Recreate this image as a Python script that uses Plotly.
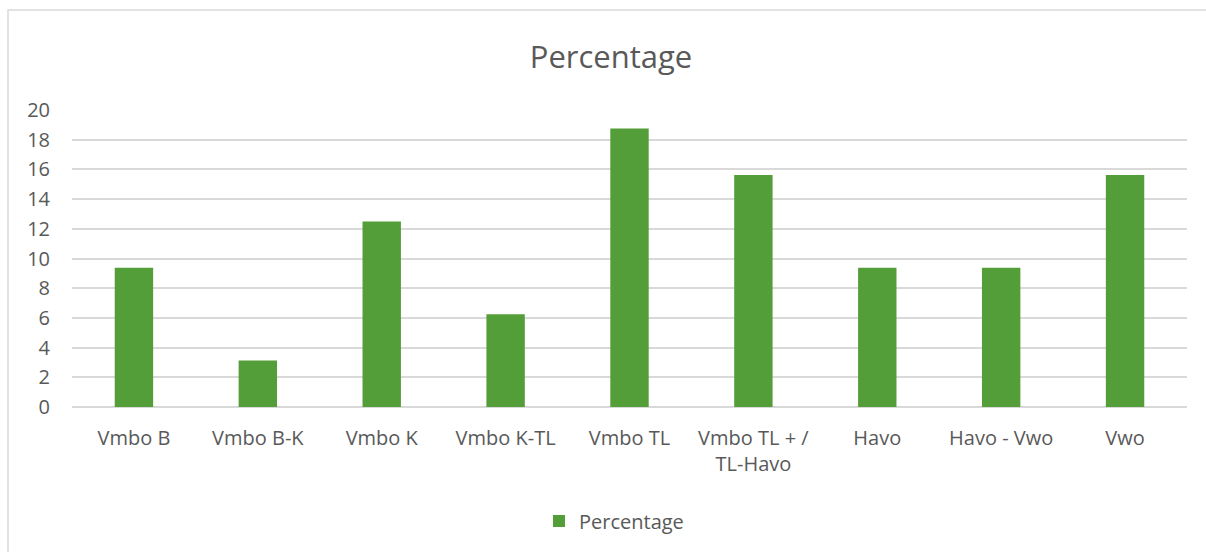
import plotly.graph_objects as go

categories = ["Vmbo B", "Vmbo B-K", "Vmbo K", "Vmbo K-TL", "Vmbo TL",
              "Vmbo TL + /<br>TL-Havo", "Havo", "Havo - Vwo", "Vwo"]
percentages = [9.375, 3.125, 12.5, 6.25, 18.75, 15.625, 9.375, 9.375, 15.625]
y_ticks = [0, 2, 4, 6, 8, 10, 12, 14, 16, 18, 20]

GREEN = "#549E39"
TEXT = "#595959"
GRID = "#D9D9D9"
FONT = "Open Sans"

fig = go.Figure()
fig.add_trace(go.Bar(
    x=categories, y=percentages, name="Percentage",
    marker=dict(color=GREEN, line=dict(width=0)),
    showlegend=True,
))

W, H = 1206, 552
L, R, T, B = 72, 19, 110, 145
pw = W - L - R
ph = H - T - B

def px_x(p):
    return (p - L) / pw

def px_y(p):
    return (H - B - p) / ph

fig.update_layout(
    width=W, height=H,
    margin=dict(l=L, r=R, t=T, b=B, autoexpand=False),
    paper_bgcolor="white", plot_bgcolor="white",
    font=dict(family=FONT, color=TEXT, size=20),
    bargap=0.69,
    title=dict(text="Percentage", x=611 / W, xanchor="center",
               y=1 - 57 / H, yanchor="middle", yref="container",
               font=dict(size=31, color=TEXT, family=FONT)),
    legend=dict(orientation="h", x=px_x(614), xanchor="center",
                y=px_y(521), yanchor="middle",
                font=dict(size=20, color=TEXT), itemwidth=30,
                bgcolor="rgba(0,0,0,0)"),
    xaxis=dict(showgrid=False, showline=False, zeroline=False,
               ticks="", ticklabelstandoff=17,
               tickfont=dict(size=20, color=TEXT)),
    yaxis=dict(range=[0, 20], tickvals=y_ticks, showgrid=True,
               gridcolor=GRID, gridwidth=1.5, zeroline=True,
               zerolinecolor=GRID, zerolinewidth=1.5, showline=False,
               ticks="", ticklabelstandoff=21,
               tickfont=dict(size=20, color=TEXT)),
    shapes=[dict(type="rect", xref="paper", yref="paper",
                 x0=px_x(8), x1=px_x(1220), y0=px_y(570), y1=px_y(10),
                 line=dict(color=GRID, width=1.5), fillcolor="rgba(0,0,0,0)",
                 layer="below")],
)

fig.write_html("out.html",
               config={"displayModeBar": False},
               post_script="document.body.style.margin='0';document.body.style.overflow='hidden';")
